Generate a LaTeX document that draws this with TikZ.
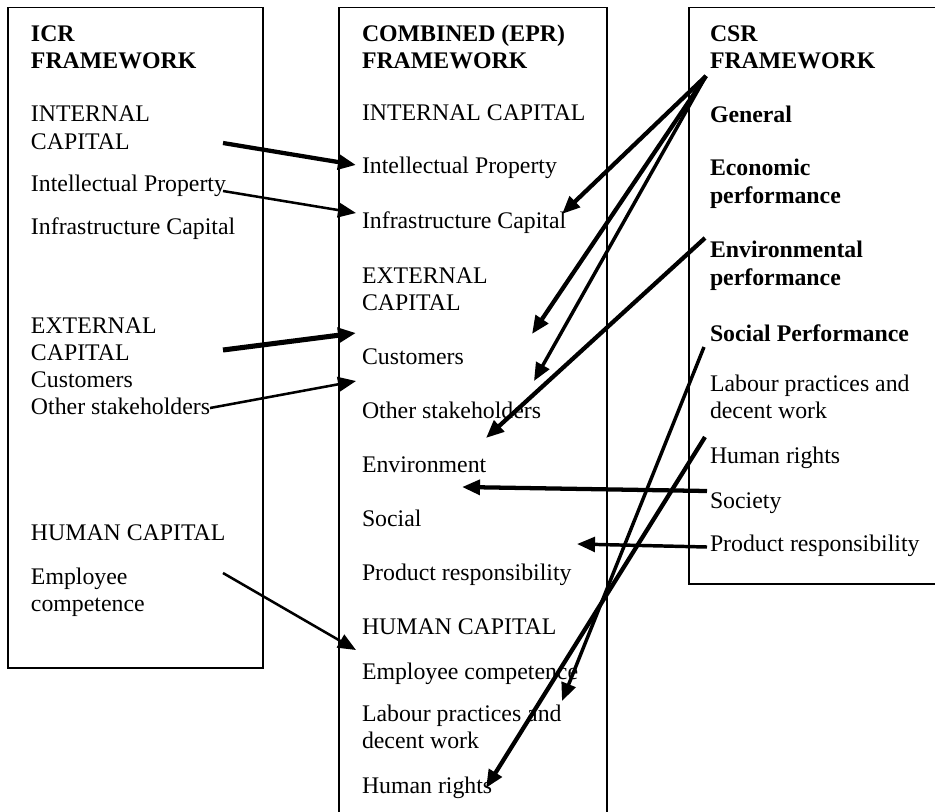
\documentclass[tikz,border=0pt]{standalone}
\usepackage{fontspec}
\setmainfont{Liberation Serif}
\usetikzlibrary{arrows.meta}

\tikzset{
  txt/.style={anchor=base west, inner sep=0pt, outer sep=0pt,
              font=\fontsize{17.85pt}{21pt}\selectfont},
  hdr/.style={txt, font=\fontsize{17.85pt}{21pt}\selectfont\bfseries},
  frame/.style={line width=1.1pt},
  link/.style={-{Triangle[length=13.5pt,width=11pt]}, line width=3.2pt},
  thinlink/.style={link, line width=1.9pt},
  midlink/.style={link, line width=2.6pt},
}

\begin{document}
\begin{tikzpicture}[x=0.75pt, y=-0.75pt]
\useasboundingbox (0,0) rectangle (935,811);

% ---- frames ----
\draw[frame] (8,7.5) rectangle (263,668);
\draw[frame] (339,820) -- (339,7.5) -- (607,7.5) -- (607,820);
\draw[frame] (945,7.5) -- (689,7.5) -- (689,584) -- (945,584);

% ---- ICR framework ----
\node[hdr] (icrA) at (31,41) {ICR};
\node[hdr] (icrB) at (31,68) {FRAMEWORK};
\node[txt] (icr1) at (31,121) {INTERNAL};
\node[txt] (icr2) at (31,149) {CAPITAL};
\node[txt] (icr3) at (31,191) {Intellectual Property};
\node[txt] (icr4) at (31,234) {Infrastructure Capital};
\node[txt] (icr5) at (31,333) {EXTERNAL};
\node[txt] (icr6) at (31,360) {CAPITAL};
\node[txt] (icr7) at (31,387) {Customers};
\node[txt] (icr8) at (31,414) {Other stakeholders};
\node[txt] (icr9) at (31,540) {HUMAN CAPITAL};
\node[txt] (icr10) at (31,584) {Employee};
\node[txt] (icr11) at (31,611) {competence};

% ---- combined (EPR) framework ----
\node[hdr] (epA) at (362,41) {COMBINED (EPR)};
\node[hdr] (epB) at (362,68) {FRAMEWORK};
\node[txt] (ep1) at (362,120) {INTERNAL CAPITAL};
\node[txt] (ep2) at (362,173) {Intellectual Property};
\node[txt] (ep3) at (362,228) {Infrastructure Capital};
\node[txt] (ep4) at (362,283) {EXTERNAL};
\node[txt] (ep5) at (362,310) {CAPITAL};
\node[txt] (ep6) at (362,364) {Customers};
\node[txt] (ep7) at (362,418) {Other stakeholders};
\node[txt] (ep8) at (362,472) {Environment};
\node[txt] (ep9) at (362,526) {Social};
\node[txt] (ep10) at (362,580) {Product responsibility};
\node[txt] (ep11) at (362,634) {HUMAN CAPITAL};
\node[txt] (ep12) at (362,679) {Employee competence};
\node[txt] (ep13) at (362,721) {Labour practices and};
\node[txt] (ep14) at (362,748) {decent work};
\node[txt] (ep15) at (362,793) {Human rights};

% ---- CSR framework ----
\node[hdr] (csrA) at (710,41) {CSR};
\node[hdr] (csrB) at (710,68) {FRAMEWORK};
\node[hdr] (csr1) at (710,122) {General};
\node[hdr] (csr2) at (710,175) {Economic};
\node[hdr] (csr3) at (710,203) {performance};
\node[hdr] (csr4) at (710,257) {Environmental};
\node[hdr] (csr5) at (710,285) {performance};
\node[hdr] (csr6) at (710,341) {Social Performance};
\node[txt] (csr7) at (710,391) {Labour practices and};
\node[txt] (csr8) at (710,418) {decent work};
\node[txt] (csr9) at (710,463) {Human rights};
\node[txt] (csr10) at (710,508) {Society};
\node[txt] (csr11) at (710,551) {Product responsibility};

% ---- connector end points ----
\coordinate (icrInt)    at (223,143);
\coordinate (epIP)      at (356,165);
\coordinate (icrIP)     at (223,191);
\coordinate (epInfra)   at (356,213);
\coordinate (icrExt)    at (223,350);
\coordinate (epCustA)   at (356,333);
\coordinate (icrOther)  at (210,408);
\coordinate (epCustB)   at (356,381);
\coordinate (icrEmp)    at (223,573);
\coordinate (epHuman)   at (356,650);
\coordinate (csrHead)   at (706,76);
\coordinate (epInfraR)  at (562,214);
\coordinate (epCust)    at (532,334);
\coordinate (epOther)   at (534,381);
\coordinate (csrEnv)    at (705,238);
\coordinate (epEnvt)    at (486,438);
\coordinate (csrSoc)    at (707,491);
\coordinate (epEnvtB)   at (462,487);
\coordinate (csrProd)   at (707,547);
\coordinate (epProd)    at (577,544);
\coordinate (csrSocPerf) at (704,347);
\coordinate (epLabour)  at (562,701);
\coordinate (csrHR)     at (705,437);
\coordinate (epHR)      at (486,788);

% ---- ICR -> combined ----
\draw[link] (icrInt) -- (epIP);
\draw[thinlink] (icrIP) -- (epInfra);
\draw[link, line width=3.8pt] (icrExt) -- (epCustA);
\draw[thinlink] (icrOther) -- (epCustB);
\draw[thinlink] (icrEmp) -- (epHuman);

% ---- CSR -> combined ----
\draw[link] (csrHead) -- (epInfraR);
\draw[link] (csrHead) -- (epCust);
\draw[midlink] (csrHead) -- (epOther);
\draw[link] (csrEnv) -- (epEnvt);
\draw[link] (csrSoc) -- (epEnvtB);
\draw[midlink] (csrProd) -- (epProd);
\draw[midlink] (csrSocPerf) -- (epLabour);
\draw[link] (csrHR) -- (epHR);
\end{tikzpicture}
\end{document}
